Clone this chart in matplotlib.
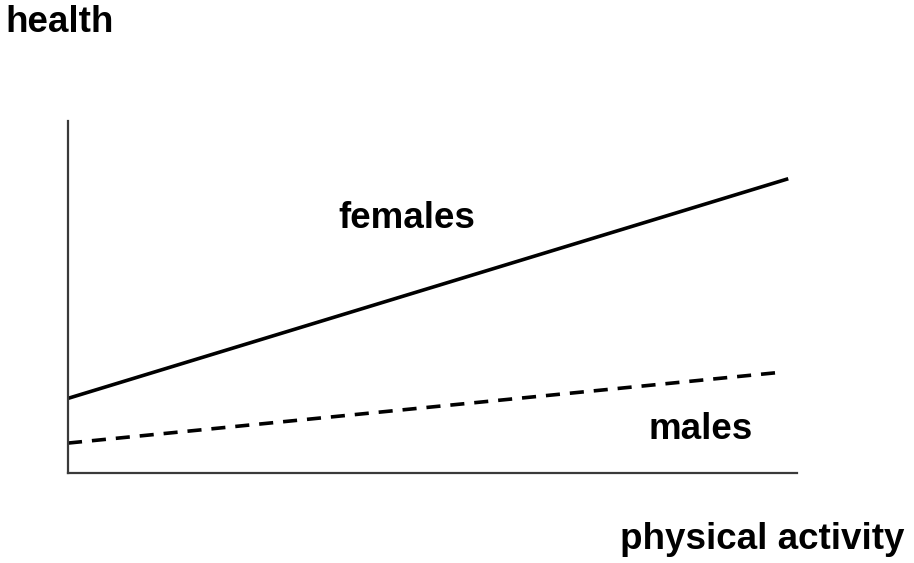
import matplotlib
matplotlib.use("Agg")
import matplotlib.pyplot as plt

# schematic lines: physical activity (x) vs health (y)
activity = [0, 98.8]
females = [21.2, 83.6]
activity_m = [0, 97.7]
males = [8.5, 28.6]

label_font = {'family': ['Liberation Sans', 'DejaVu Sans'], 'weight': 'bold', 'size': 26.5}

W, H = 914, 563
fig = plt.figure(figsize=(W / 100, H / 100), dpi=100)
# axes box in pixels: left 68, right 797, top 121, bottom 473
ax = fig.add_axes([68 / W, (H - 473) / H, (797 - 68) / W, (473 - 121) / H])

ax.plot(activity, females, color='black', lw=2.6, solid_capstyle='butt')
ax.plot(activity_m, males, color='black', lw=2.6, dashes=(3.9, 2.75),
        dash_capstyle='butt')

ax.set_xlim(0, 100)
ax.set_ylim(0, 100)
ax.spines['top'].set_visible(False)
ax.spines['right'].set_visible(False)
for s in ('left', 'bottom'):
    ax.spines[s].set_color('#3a3a3a')
    ax.spines[s].set_linewidth(1.6)
ax.set_xticks([])
ax.set_yticks([])

ax.text(46.5, 69.6, 'females', ha='center', va='baseline', **label_font)
ax.text(86.8, 9.6, 'males', ha='center', va='baseline', **label_font)

fig.text(5 / W, 1 - 32 / H, 'health', ha='left', va='baseline', **label_font)
fig.text(905 / W, 1 - 549 / H, 'physical activity', ha='right', va='baseline',
         **label_font)

fig.savefig('out.png', dpi=100, facecolor='white')
